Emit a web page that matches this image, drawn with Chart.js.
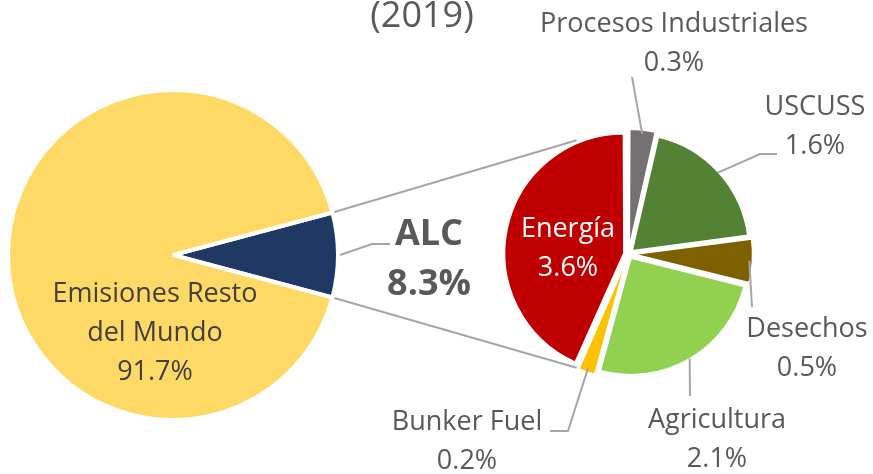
<!DOCTYPE html>
<html>
<head>
<meta charset="utf-8">
<script src="https://cdn.jsdelivr.net/npm/chart.js@4.4.1/dist/chart.umd.min.js"></script>
<style>
  html, body { margin: 0; padding: 0; background: #fff; overflow: hidden; }
  #wrap { position: relative; width: 873px; height: 474px; }
  canvas { position: absolute; left: 0; top: 0; }
</style>
</head>
<body>
<div id="wrap">
  <canvas id="mainPie" width="873" height="474"></canvas>
  <canvas id="subPie" width="873" height="474"></canvas>
</div>
<script>
// data (% of global emissions, 2019)
const mainLabels = ['ALC', ['Emisiones Resto', 'del Mundo']];
const mainValues = [8.3, 91.7];
const mainColors = ['#1F3864', '#FFD966'];

const subLabels = ['Procesos Industriales', 'USCUSS', 'Desechos', 'Agricultura', 'Bunker Fuel', 'Energía'];
const subValues = [0.3, 1.6, 0.5, 2.1, 0.2, 3.6];
const subColors = ['#767171', '#548235', '#7F6000', '#92D050', '#FFC000', '#C00000'];

const titleText = '(2019)';

// where the labels sit (text centre x, first baseline y) and leader elbows
const subLabelSpots = [
  { x: 674, y: 32, leader: [[632, 77]] },
  { x: 815, y: 115, leader: [[760, 154], [777, 154]] },
  { x: 807, y: 337, leader: [[752, 307]] },
  { x: 717, y: 428, leader: [[690, 396]] },
  { x: 467, y: 430, leader: [[568, 431], [550, 431]] },
  { x: 568, y: 237, inside: true }
];
const lineGap = 39;
const labelFont = '27px "Open Sans"';
const grey = '#595959';
const leaderColor = '#A6A6A6';

const pct = (v) => v.toFixed(1) + '%';

const mainChart = new Chart(document.getElementById('mainPie'), {
  type: 'pie',
  data: {
    labels: mainLabels,
    datasets: [{
      data: mainValues,
      backgroundColor: mainColors,
      borderColor: '#ffffff',
      borderWidth: 4
    }]
  },
  options: {
    responsive: false,
    animation: false,
    // start the ALC slice so that it is centred on the right side
    rotation: 90 - (mainValues[0] / mainValues.reduce((a, b) => a + b, 0)) * 180,
    layout: { padding: { left: 6, top: 88, right: 533, bottom: 52 } },
    plugins: { legend: { display: false }, tooltip: { enabled: false } },
    events: []
  }
});

const annotations = {
  id: 'annotations',
  afterDraw(chart) {
    const ctx = chart.ctx;
    const mainArc = mainChart.getDatasetMeta(0).data[0];
    const subMeta = chart.getDatasetMeta(0);
    const s0 = subMeta.data[0];

    ctx.save();
    ctx.lineCap = 'butt';
    ctx.strokeStyle = leaderColor;
    ctx.lineWidth = 2;

    // connector lines between the two pies
    const ends = [mainArc.startAngle, mainArc.endAngle];
    const subAngles = [-114.5, 114.5].map(d => d * Math.PI / 180);
    ends.forEach((a, i) => {
      const r1 = mainArc.outerRadius + 2;
      const r2 = s0.outerRadius + 8;
      ctx.beginPath();
      ctx.moveTo(mainArc.x + Math.cos(a) * r1, mainArc.y + Math.sin(a) * r1);
      ctx.lineTo(s0.x + Math.cos(subAngles[i]) * r2, s0.y + Math.sin(subAngles[i]) * r2);
      ctx.stroke();
    });

    // ALC leader + label
    const midMain = (mainArc.startAngle + mainArc.endAngle) / 2;
    ctx.beginPath();
    ctx.moveTo(mainArc.x + Math.cos(midMain) * (mainArc.outerRadius + 2), mainArc.y + Math.sin(midMain) * (mainArc.outerRadius + 2));
    ctx.lineTo(372, 244);
    ctx.lineTo(390, 244);
    ctx.stroke();

    ctx.textAlign = 'center';
    ctx.textBaseline = 'alphabetic';
    ctx.fillStyle = grey;
    ctx.font = 'bold 36px "Open Sans"';
    ctx.fillText(mainLabels[0], 429, 245);
    ctx.fillText(pct(mainValues[0]), 429, 295);

    // resto del mundo, inside the yellow slice
    ctx.fillStyle = '#404040';
    ctx.font = labelFont;
    const restLines = mainLabels[1].concat([pct(mainValues[1])]);
    restLines.forEach((t, i) => ctx.fillText(t, 155, 302 + i * lineGap));

    // sub pie labels with leaders
    subMeta.data.forEach((arc, i) => {
      const spot = subLabelSpots[i];
      const mid = (arc.startAngle + arc.endAngle) / 2;
      if (!spot.inside) {
        const r = arc.outerRadius + 4;
        ctx.beginPath();
        ctx.moveTo(arc.x + Math.cos(mid) * r, arc.y + Math.sin(mid) * r);
        spot.leader.forEach(p => ctx.lineTo(p[0], p[1]));
        ctx.stroke();
      }
      ctx.fillStyle = spot.inside ? '#ffffff' : grey;
      ctx.font = labelFont;
      ctx.fillText(subLabels[i], spot.x, spot.y);
      ctx.fillText(pct(subValues[i]), spot.x, spot.y + lineGap);
    });

    // title remnant at the top
    ctx.fillStyle = grey;
    ctx.font = '36px "Open Sans"';
    ctx.fillText(titleText, 422, 27);
    ctx.restore();
  }
};

const subChart = new Chart(document.getElementById('subPie'), {
  type: 'pie',
  data: {
    labels: subLabels,
    datasets: [{
      data: subValues,
      backgroundColor: subColors,
      borderColor: '#ffffff',
      borderWidth: 2,
      offset: 18
    }]
  },
  options: {
    responsive: false,
    animation: false,
    rotation: 0,
    layout: { padding: { left: 501, top: 127, right: 117, bottom: 93 } },
    plugins: { legend: { display: false }, tooltip: { enabled: false } },
    events: []
  },
  plugins: [annotations]
});
</script>
</body>
</html>
